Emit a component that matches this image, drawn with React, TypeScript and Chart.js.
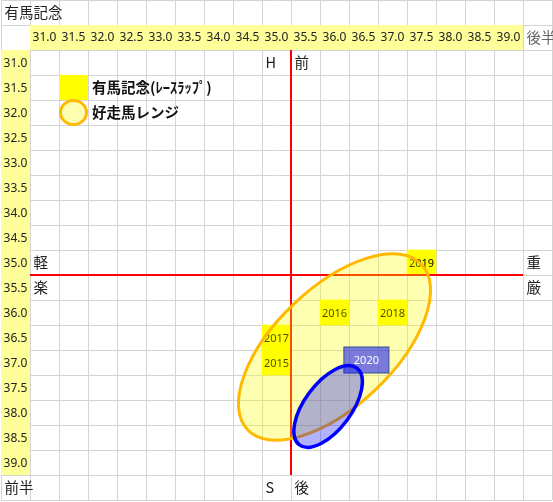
import React, { useEffect, useRef } from "react";
import { Chart, registerables } from "chart.js";

Chart.register(...registerables);

// sheet title
const TITLE = "有馬記念";

// column headers = 後半 (late half), row headers = 前半 (early half)
const LATE_HALF = [31.0, 31.5, 32.0, 32.5, 33.0, 33.5, 34.0, 34.5, 35.0, 35.5, 36.0, 36.5, 37.0, 37.5, 38.0, 38.5, 39.0];
const EARLY_HALF = [31.0, 31.5, 32.0, 32.5, 33.0, 33.5, 34.0, 34.5, 35.0, 35.5, 36.0, 36.5, 37.0, 37.5, 38.0, 38.5, 39.0];

// race laps of past years
const YEARS = ["2015", "2016", "2017", "2018", "2019"];
const YEAR_LATE = [35.0, 36.0, 35.0, 37.0, 37.5];
const YEAR_EARLY = [37.0, 36.0, 36.5, 36.0, 35.0];

// this year's guess (text box)
const NOW_YEAR = "2020";
const NOW_LATE = 36.55;
const NOW_EARLY = 36.95;

// ranges: 好走馬レンジ (orange) and this year's (blue)
const RANGE_LATE = [36.0, 35.89];
const RANGE_EARLY = [36.69, 37.88];

const LEGEND_LABELS = ["有馬記念(ﾚｰｽﾗｯﾌﾟ)", "好走馬レンジ"];

// red cross
const PACE_LATE = 35.25;
const PACE_EARLY = 35.25;

// loose words typed into the sheet: [text, late, early]
const NOTES: [string, number, number][] = [
  [TITLE, 30.5, 30.0],
  ["後半", 39.5, 30.5],
  ["前半", 30.5, 39.5],
  ["H", 35.0, 31.0],
  ["前", 35.5, 31.0],
  ["S", 35.0, 39.5],
  ["後", 35.5, 39.5],
  ["軽", 31.0, 35.0],
  ["楽", 31.0, 35.5],
  ["重", 39.5, 35.0],
  ["厳", 39.5, 35.5],
];

const STEP = 0.5;
const X_MIN = LATE_HALF[0] - (3 * STEP) / 2;
const X_MAX = LATE_HALF[LATE_HALF.length - 1] + (3 * STEP) / 2;
const Y_MIN = EARLY_HALF[0] - (5 * STEP) / 2;
const Y_MAX = EARLY_HALF[EARLY_HALF.length - 1] + (3 * STEP) / 2;

const GRID = "#d4d4d4";
const HEADER_FILL = "#ffff99";
const CELL_FILL = "#ffff00";
const CJK = "'Noto Sans CJK JP', 'Noto Sans', sans-serif";
const NUM = "'Noto Sans', sans-serif";

const RANGE_STYLE = [
  { rx: 2.07, ry: 1.02, angle: 43.6, fill: "rgba(255,255,0,0.3)", stroke: "#ffb900", width: 3 },
  { rx: 0.826, ry: 0.402, angle: 53.2, fill: "rgba(0,0,255,0.3)", stroke: "#0000ff", width: 3.5 },
];

function cellEdges(min: number, max: number) {
  const out: number[] = [];
  for (let v = min; v <= max + 1e-9; v += STEP) out.push(v);
  return out;
}

const sheetPlugin = {
  id: "sheet",
  beforeDatasetsDraw(chart: any) {
    const { ctx } = chart;
    const x = chart.scales.x;
    const y = chart.scales.y;
    const fillRange = (x0: number, x1: number, y0: number, y1: number) => {
      const l = x.getPixelForValue(x0);
      const r = x.getPixelForValue(x1);
      const t = y.getPixelForValue(y0);
      const b = y.getPixelForValue(y1);
      ctx.fillRect(l, t, r - l, b - t);
    };
    ctx.save();
    ctx.fillStyle = HEADER_FILL;
    fillRange(LATE_HALF[0] - STEP / 2, LATE_HALF[LATE_HALF.length - 1] + STEP / 2, 30.25, 30.75);
    fillRange(30.25, 30.75, EARLY_HALF[0] - STEP / 2, EARLY_HALF[EARLY_HALF.length - 1] + STEP / 2);
    // legend swatch
    ctx.fillStyle = CELL_FILL;
    fillRange(31.25, 31.75, 31.25, 31.75);
    ctx.restore();
  },
  afterDatasetsDraw(chart: any) {
    const { ctx } = chart;
    const x = chart.scales.x;
    const y = chart.scales.y;
    const unit = x.getPixelForValue(1) - x.getPixelForValue(0);
    ctx.save();

    // year labels in the yellow cells
    ctx.font = `11px ${NUM}`;
    ctx.fillStyle = "#000";
    ctx.textAlign = "center";
    ctx.textBaseline = "alphabetic";
    YEARS.forEach((t, i) => {
      ctx.fillText(t, x.getPixelForValue(YEAR_LATE[i]), y.getPixelForValue(YEAR_EARLY[i]) + 4);
    });

    // red cross
    ctx.strokeStyle = "#ff0000";
    ctx.lineWidth = 2;
    ctx.beginPath();
    ctx.moveTo(x.getPixelForValue(PACE_LATE), y.getPixelForValue(EARLY_HALF[0] - STEP / 2));
    ctx.lineTo(x.getPixelForValue(PACE_LATE), y.getPixelForValue(EARLY_HALF[EARLY_HALF.length - 1] + STEP / 2));
    ctx.moveTo(x.getPixelForValue(LATE_HALF[0] - STEP / 2), y.getPixelForValue(PACE_EARLY));
    ctx.lineTo(x.getPixelForValue(LATE_HALF[LATE_HALF.length - 1] + STEP / 2), y.getPixelForValue(PACE_EARLY));
    ctx.stroke();

    const drawRange = (i: number) => {
      const s = RANGE_STYLE[i];
      ctx.beginPath();
      ctx.ellipse(
        x.getPixelForValue(RANGE_LATE[i]),
        y.getPixelForValue(RANGE_EARLY[i]),
        s.rx * unit,
        s.ry * unit,
        (-s.angle * Math.PI) / 180,
        0,
        Math.PI * 2
      );
      ctx.fillStyle = s.fill;
      ctx.fill();
      ctx.lineWidth = s.width;
      ctx.strokeStyle = s.stroke;
      ctx.stroke();
    };

    drawRange(0);

    // 2020 text box
    const bx = x.getPixelForValue(NOW_LATE);
    const by = y.getPixelForValue(NOW_EARLY);
    ctx.fillStyle = "rgba(0,0,255,0.52)";
    ctx.fillRect(bx - 22.5, by - 13, 45, 26);
    ctx.strokeStyle = "#2f528f";
    ctx.lineWidth = 1;
    ctx.strokeRect(bx - 22.5, by - 13, 45, 26);
    ctx.fillStyle = "#ffffff";
    ctx.font = `11px ${NUM}`;
    ctx.textAlign = "center";
    ctx.fillText(NOW_YEAR, bx, by + 4);

    drawRange(1);

    // legend
    const lx = x.getPixelForValue(31.5);
    const ly = y.getPixelForValue(32.0);
    ctx.beginPath();
    ctx.ellipse(lx, ly, 13, 12, 0, 0, Math.PI * 2);
    ctx.fillStyle = RANGE_STYLE[0].fill;
    ctx.fill();
    ctx.lineWidth = 3;
    ctx.strokeStyle = RANGE_STYLE[0].stroke;
    ctx.stroke();
    ctx.font = `bold 14.5px ${CJK}`;
    ctx.fillStyle = "#111";
    ctx.textAlign = "left";
    ctx.fillText(LEGEND_LABELS[0], x.getPixelForValue(31.75) + 4, y.getPixelForValue(31.5) + 5);
    ctx.fillText(LEGEND_LABELS[1], x.getPixelForValue(31.75) + 4, y.getPixelForValue(32.0) + 5);

    // headers
    ctx.font = `12px ${NUM}`;
    ctx.fillStyle = "#222";
    ctx.textAlign = "center";
    LATE_HALF.forEach((v) => ctx.fillText(v.toFixed(1), x.getPixelForValue(v), y.getPixelForValue(30.5) + 3));
    EARLY_HALF.forEach((v) => ctx.fillText(v.toFixed(1), x.getPixelForValue(30.5), y.getPixelForValue(v) + 4.3));

    // notes
    ctx.font = `14.5px ${CJK}`;
    ctx.textAlign = "left";
    NOTES.forEach(([t, lv, ev]) => {
      ctx.fillStyle = t === "後半" ? "#666" : "#222";
      ctx.fillText(t, x.getPixelForValue(lv - STEP / 2) + 3.5, y.getPixelForValue(ev) + 5);
    });

    ctx.restore();
  },
};

export default function App() {
  const canvasRef = useRef<HTMLCanvasElement | null>(null);

  useEffect(() => {
    if (!canvasRef.current) return;
    const axis = (min: number, max: number) => ({
      type: "linear" as const,
      min,
      max,
      offset: false,
      afterBuildTicks: (scale: any) => {
        scale.ticks = cellEdges(min, max).map((v) => ({ value: v }));
      },
      ticks: { display: false },
      grid: { color: GRID, drawTicks: false, offset: false, lineWidth: 1 },
      border: { display: false },
    });
    const chart = new Chart(canvasRef.current, {
      type: "bar",
      data: {
        datasets: [
          {
            label: LEGEND_LABELS[0],
            data: YEARS.map((_, i) => ({
              x: YEAR_LATE[i],
              y: [YEAR_EARLY[i] - STEP / 2, YEAR_EARLY[i] + STEP / 2],
            })) as any,
            backgroundColor: CELL_FILL,
            borderWidth: 0,
            barPercentage: 1,
            categoryPercentage: 1,
          },
        ],
      },
      options: {
        animation: false,
        responsive: true,
        maintainAspectRatio: false,
        events: [],
        layout: { padding: { left: 1, right: 1, top: 0, bottom: 2 } },
        plugins: { legend: { display: false }, tooltip: { enabled: false } },
        scales: {
          x: { ...axis(X_MIN, X_MAX), position: "top" },
          y: { ...axis(Y_MIN, Y_MAX), reverse: true },
        } as any,
      },
      plugins: [sheetPlugin],
    });
    return () => chart.destroy();
  }, []);

  return (
    <div style={{ position: "absolute", left: 0, top: 0, width: 553, height: 502, background: "#fff" }}>
      <canvas ref={canvasRef} />
    </div>
  );
}
